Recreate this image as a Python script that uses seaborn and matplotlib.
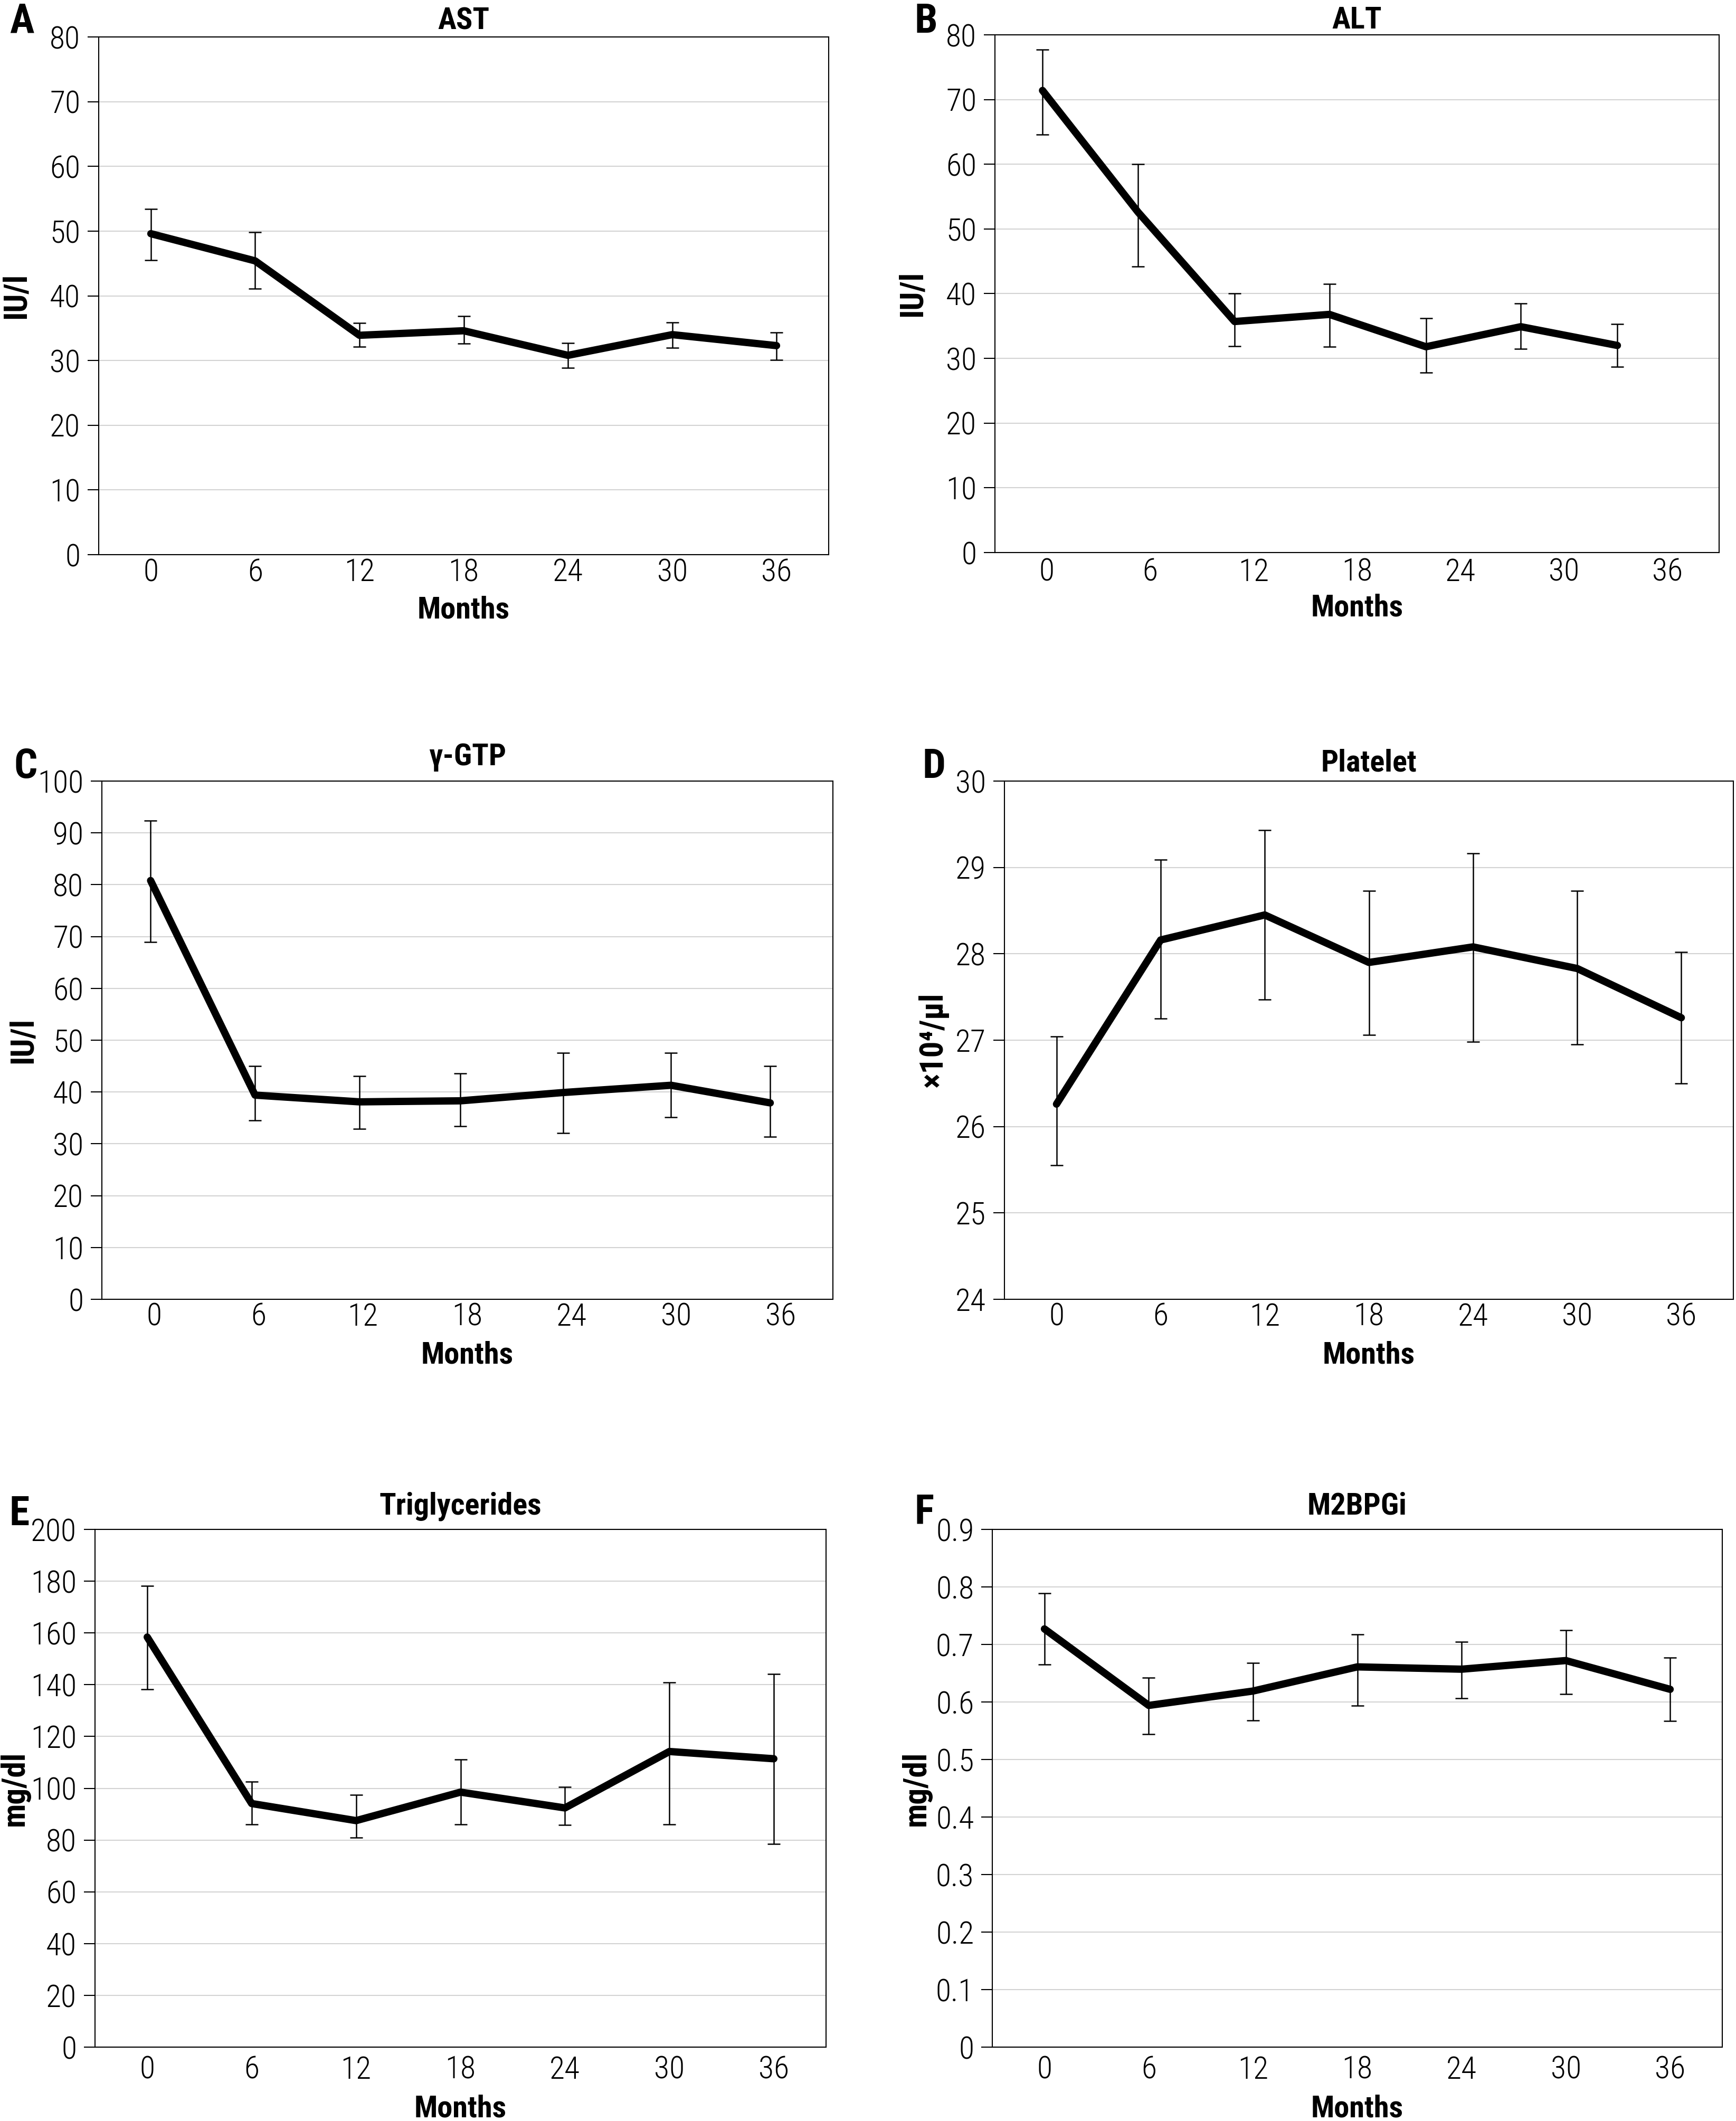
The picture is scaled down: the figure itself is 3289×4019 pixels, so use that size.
import numpy as np
import pandas as pd
import matplotlib.pyplot as plt
import seaborn as sns

# month ticks shared by all panels
months = [0, 6, 12, 18, 24, 30, 36]

# A: AST
ast_x = [0, 6, 12, 18, 24, 30, 36]
ast_mean = [49.6, 45.4, 33.9, 34.6, 30.8, 34.0, 32.3]
ast_lo = [45.5, 41.1, 32.1, 32.6, 28.9, 32.0, 30.1]
ast_hi = [53.4, 49.8, 35.8, 36.9, 32.7, 35.9, 34.3]

# B: ALT (points were drawn a bit compressed in the original)
alt_x = [-0.24, 5.3, 10.9, 16.4, 22.0, 27.5, 33.1]
alt_mean = [71.4, 52.6, 35.7, 36.8, 31.8, 34.9, 32.0]
alt_lo = [64.6, 44.2, 31.9, 31.8, 27.8, 31.5, 28.7]
alt_hi = [77.7, 60.0, 40.0, 41.5, 36.2, 38.5, 35.3]

# C: gamma-GTP
ggt_x = [-0.2, 5.8, 11.8, 17.6, 23.5, 29.7, 35.4]
ggt_mean = [80.8, 39.4, 38.1, 38.3, 39.9, 41.3, 37.9]
ggt_lo = [68.9, 34.5, 32.9, 33.4, 32.1, 35.1, 31.4]
ggt_hi = [92.4, 45.0, 43.1, 43.6, 47.6, 47.6, 45.0]

# D: platelet
plt_x = [0, 6, 12, 18, 24, 30, 36]
plt_mean = [26.26, 28.16, 28.45, 27.90, 28.08, 27.83, 27.26]
plt_lo = [25.55, 27.25, 27.47, 27.06, 26.98, 26.95, 26.50]
plt_hi = [27.04, 29.09, 29.43, 28.73, 29.16, 28.73, 28.02]

# E: triglycerides
tg_x = [0, 6, 12, 18, 24, 30, 36]
tg_mean = [158.4, 94.1, 87.5, 98.5, 92.4, 114.2, 111.4]
tg_lo = [138.3, 86.1, 80.9, 86.1, 85.8, 86.1, 78.5]
tg_hi = [178.1, 102.6, 97.5, 111.2, 100.5, 140.9, 144.1]

# F: M2BPGi
m2_x = [0, 6, 12, 18, 24, 30, 36]
m2_mean = [0.727, 0.594, 0.619, 0.661, 0.657, 0.672, 0.622]
m2_lo = [0.665, 0.544, 0.568, 0.594, 0.606, 0.614, 0.567]
m2_hi = [0.789, 0.642, 0.668, 0.717, 0.705, 0.725, 0.677]

ast_ticks = [0, 10, 20, 30, 40, 50, 60, 70, 80]
ggt_ticks = [0, 10, 20, 30, 40, 50, 60, 70, 80, 90, 100]
plt_ticks = [24, 25, 26, 27, 28, 29, 30]
tg_ticks = [0, 20, 40, 60, 80, 100, 120, 140, 160, 180, 200]
m2_ticks = [0, 0.1, 0.2, 0.3, 0.4, 0.5, 0.6, 0.7, 0.8, 0.9]
m2_ticklabels = ["0", "0.1", "0.2", "0.3", "0.4", "0.5", "0.6", "0.7", "0.8", "0.9"]

sns.set_theme(style="white")
# narrow faces first, whichever is installed gets used
plt.rcParams["font.family"] = ["Roboto Condensed", "Liberation Sans Narrow",
                               "Liberation Sans", "DejaVu Sans"]
plt.rcParams.update({"text.color": "black", "axes.labelcolor": "black",
                     "xtick.color": "black", "ytick.color": "black",
                     "axes.edgecolor": "black"})

W, H = 3289, 4019
fig = plt.figure(figsize=(W / 100, H / 100), dpi=100)

# letter, title, ylabel, x, mean, lo, hi, yticks, yticklabels,
# box (l, r, t, b px), letter pos, title gap, xtick pad, months gap, ylabel x
panels = [
    ("A", "AST", "IU/l", ast_x, ast_mean, ast_lo, ast_hi, ast_ticks, None,
     (187, 1570, 70, 1051), (18, 62), 14, 4, 78, -0.092),
    ("B", "ALT", "IU/l", alt_x, alt_mean, alt_lo, alt_hi, ast_ticks, None,
     (1885, 3257, 66, 1047), (1732, 62), 12, 6.5, 78, -0.093),
    ("C", "\u03b3-GTP", "IU/l", ggt_x, ggt_mean, ggt_lo, ggt_hi, ggt_ticks, None,
     (193, 1578, 1480, 2462), (26, 1474), 30, 3.6, 79, -0.087),
    ("D", "Platelet", "\u00d710\u2074/\u00b5l", plt_x, plt_mean, plt_lo, plt_hi, plt_ticks, None,
     (1903, 3284, 1480, 2462), (1747, 1474), 18, 3.6, 79, -0.077),
    ("E", "Triglycerides", "mg/dl", tg_x, tg_mean, tg_lo, tg_hi, tg_ticks, None,
     (180, 1565, 2898, 3879), (18, 2890), 28, 11, 90, -0.089),
    ("F", "M2BPGi", "mg/dl", m2_x, m2_mean, m2_lo, m2_hi, m2_ticks, m2_ticklabels,
     (1880, 3263, 2898, 3879), (1732, 2888), 28, 11, 90, -0.083),
]

for (letter, title, ylab, x, mean, lo, hi, yticks, ylabels,
     box, lpos, tgap, xpad, mgap, ylx) in panels:
    l, r, t, b = box
    ax = fig.add_axes([l / W, 1 - b / H, (r - l) / W, (b - t) / H])
    mean = np.array(mean)
    lo = np.array(lo)
    hi = np.array(hi)
    df = pd.DataFrame({"month": x, "value": mean})

    ax.errorbar(x, mean, yerr=[mean - lo, hi - mean], fmt="none",
                ecolor="black", elinewidth=1.8, capsize=8.3, capthick=1.8,
                zorder=2)
    sns.lineplot(data=df, x="month", y="value", ax=ax, color="black",
                 linewidth=10, sort=False, zorder=3,
                 solid_capstyle="round", solid_joinstyle="round")

    ax.set_xlim(-3, 39)
    ax.set_ylim(yticks[0], yticks[-1])
    ax.set_xticks(months)
    ax.set_xticklabels([str(m) for m in months])
    ax.set_yticks(yticks)
    if ylabels is not None:
        ax.set_yticklabels(ylabels)
    else:
        ax.set_yticklabels([str(v) for v in yticks])
    for lab in ax.get_xticklabels() + ax.get_yticklabels():
        lab.set_fontweight("light")

    ax.yaxis.grid(True, color="#d3d3d3", linewidth=1.5)
    ax.xaxis.grid(False)
    ax.set_axisbelow(True)
    for sp in ax.spines.values():
        sp.set_color("black")
        sp.set_linewidth(1.5)

    ax.tick_params(axis="y", left=True, direction="out", length=15, width=1.5,
                   pad=10, labelsize=43)
    ax.tick_params(axis="x", bottom=False, length=0, pad=xpad, labelsize=43)

    ax.set_xlabel("Months", fontsize=42, fontweight="bold")
    ax.xaxis.set_label_coords(0.5, -mgap / (b - t))
    ax.set_ylabel(ylab, fontsize=44, fontweight="bold")
    ax.yaxis.set_label_coords(ylx, 0.5)

    ax.text(0.5, 1 + tgap / (b - t), title, transform=ax.transAxes,
            ha="center", va="baseline", fontsize=42, fontweight="bold")
    fig.text(lpos[0] / W, 1 - lpos[1] / H, letter, ha="left", va="baseline",
             fontsize=56, fontweight="bold")

fig.savefig("out.png", dpi=100)
